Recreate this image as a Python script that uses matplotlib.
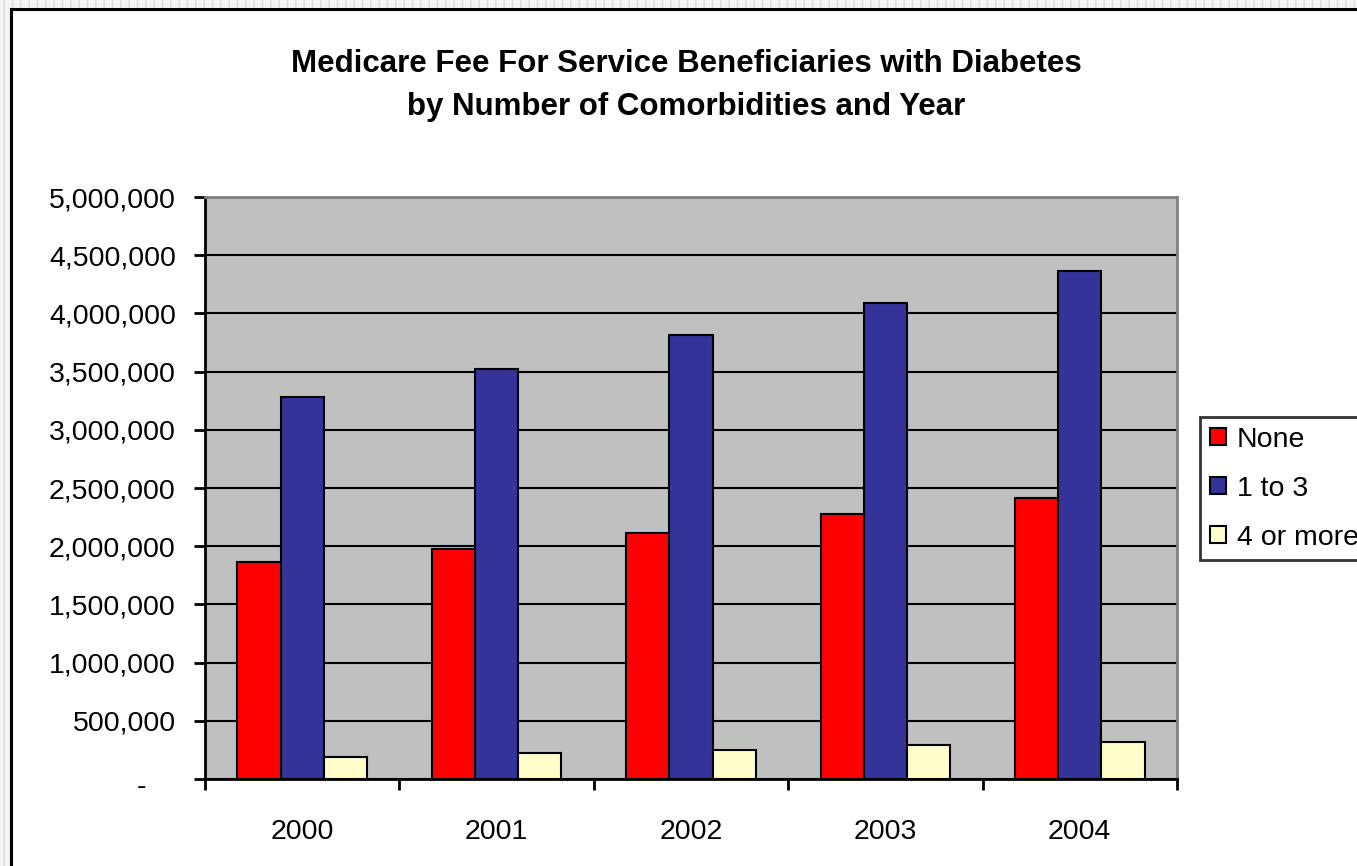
import matplotlib.pyplot as plt
from matplotlib.patches import Rectangle
from matplotlib.ticker import FuncFormatter
from matplotlib.transforms import ScaledTranslation
import numpy as np

plt.rcParams['font.family'] = ['Liberation Sans', 'DejaVu Sans']

# data
years = ['2000', '2001', '2002', '2003', '2004']
series_names = ['None', '1 to 3', '4 or more']
none_vals = [1867000, 1979000, 2116000, 2279000, 2417000]
one_to_three = [3284000, 3520000, 3814000, 4092000, 4367000]
four_plus = [192000, 221000, 250000, 290000, 320000]
colors = ['#FF0000', '#333399', '#FFFFCC']

W, H = 1357, 866
fig = plt.figure(figsize=(W / 100, H / 100), dpi=100)

# light dotted border at the image edge
fig.patches.append(Rectangle((0, 0), 1, 1, transform=fig.transFigure,
                             facecolor='#f4f4f4', edgecolor='#dcdcdc', hatch='||',
                             linewidth=0, zorder=-3))
fig.patches.append(Rectangle((11 / W, -0.1), 1.1, 1 - 9 / H + 0.1, transform=fig.transFigure,
                             facecolor='white', edgecolor='black', linewidth=2.2, zorder=-2))

ax = fig.add_axes([205 / W, 1 - 779 / H, (1177 - 205) / W, (779 - 197) / H])
ax.set_facecolor('#C0C0C0')

x = np.arange(len(years))
w = 1 / 4.5
for i, (vals, name) in enumerate(zip([none_vals, one_to_three, four_plus], series_names)):
    ax.bar(x + (i - 1) * w, vals, width=w, color=colors[i], edgecolor='black',
           linewidth=1.5, label=name, zorder=3)

ax.set_xlim(-0.5, len(years) - 0.5)
ax.set_ylim(0, 5000000)
ax.set_yticks(np.arange(0, 5000001, 500000))
ax.yaxis.set_major_formatter(FuncFormatter(lambda v, p: '-' if v == 0 else f'{int(v):,}'))
ax.grid(axis='y', color='black', linewidth=1.5, zorder=1)
ax.set_axisbelow(True)

ax.set_xticks(x)
ax.set_xticklabels(years)
ax.set_xticks(np.arange(-0.5, len(years)), minor=True)
ax.tick_params(axis='x', which='major', length=0, pad=29, labelsize=20.5)
ax.tick_params(axis='x', which='minor', length=8, width=2, direction='out')
ax.tick_params(axis='y', length=8, width=2, direction='out', pad=13, labelsize=20.5)

for s in ['top', 'right']:
    ax.spines[s].set_color('#808080')
    ax.spines[s].set_linewidth(2)
for s in ['left', 'bottom']:
    ax.spines[s].set_color('black')
    ax.spines[s].set_linewidth(2)

# the zero label "-" sits further left, like an accounting format
zero_lab = ax.yaxis.get_major_ticks()[0].label1
zero_lab.set_transform(zero_lab.get_transform() + ScaledTranslation(-0.3, -0.05, fig.dpi_scale_trans))

fig.text(686 / W, 1 - 64 / H, 'Medicare Fee For Service Beneficiaries with Diabetes',
         ha='center', va='center', fontsize=22.5, fontweight='bold')
fig.text(686 / W, 1 - 107 / H, 'by Number of Comorbidities and Year',
         ha='center', va='center', fontsize=22.5, fontweight='bold')

leg = fig.legend(loc='upper left', bbox_to_anchor=(1200 / W, 1 - 417 / H),
                 fontsize=20.5, frameon=True, fancybox=False, edgecolor='black',
                 handlelength=0.55, handleheight=0.55, handletextpad=0.4,
                 labelspacing=0.8, borderpad=0.35, borderaxespad=0)
leg.get_frame().set_linewidth(2)

fig.savefig('out.png', dpi=100)
